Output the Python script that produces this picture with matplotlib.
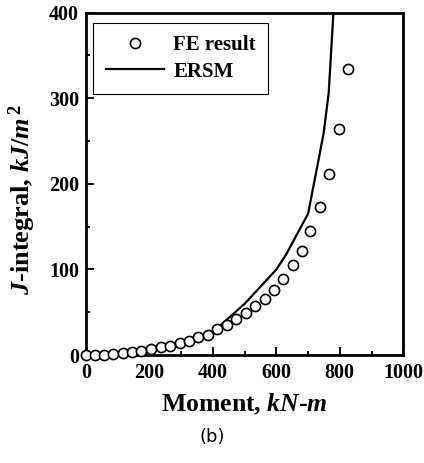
import matplotlib
matplotlib.use("Agg")
import matplotlib.pyplot as plt
from matplotlib.ticker import MultipleLocator

fe_moment = [0, 28, 57, 86, 115, 144, 174, 205, 235, 264, 295, 324, 354, 383, 413,
             444, 473, 504, 533, 563, 594, 622, 651, 680, 707, 737, 767, 796, 825]
fe_j = [0, 0, 0, 1, 2, 4, 5, 7, 9, 11, 14, 17, 21, 24, 30,
        35, 42, 49, 57, 66, 76, 89, 105, 122, 145, 173, 212, 264, 334]

ersm_moment = [0, 100, 200, 300, 400, 500, 600, 630, 700, 733, 749, 765, 780]
ersm_j = [0, 1, 4, 11, 27, 60, 100, 117, 165, 228, 259, 306, 400]

plt.rcParams['font.family'] = ['Liberation Serif', 'DejaVu Serif']
plt.rcParams['mathtext.fontset'] = 'custom'
plt.rcParams['mathtext.rm'] = 'Liberation Serif:bold'
plt.rcParams['mathtext.it'] = 'Liberation Serif:italic:bold'
plt.rcParams['mathtext.bf'] = 'Liberation Serif:bold'

fig = plt.figure(figsize=(4.24, 4.63), dpi=100)
ax = fig.add_axes([0.203, 0.233, 0.748, 0.740])

ax.plot(ersm_moment, ersm_j, color='black', lw=1.6, label='ERSM', zorder=2)
ax.plot(fe_moment, fe_j, linestyle='none', marker='o', markersize=7.3,
        markerfacecolor='white', markeredgecolor='black', markeredgewidth=1.2,
        label='FE result', clip_on=False, zorder=3)

ax.set_xlim(0, 1000)
ax.set_ylim(0, 400)
ax.xaxis.set_major_locator(MultipleLocator(200))
ax.xaxis.set_minor_locator(MultipleLocator(100))
ax.yaxis.set_major_locator(MultipleLocator(100))
ax.yaxis.set_minor_locator(MultipleLocator(50))
ax.tick_params(which='both', direction='in', top=False, right=False, width=1.3)
ax.tick_params(which='major', length=6, labelsize=14.5)
ax.tick_params(axis='x', which='major', pad=6)
ax.tick_params(axis='y', which='major', pad=5)
ax.tick_params(which='minor', length=3)
for lab in ax.get_xticklabels() + ax.get_yticklabels():
    lab.set_fontweight('bold')
for s in ax.spines.values():
    s.set_linewidth(2)

ax.set_xlabel(r'Moment, $\mathit{kN}$-$\mathit{m}$', fontsize=18.5, fontweight='bold', labelpad=6)
ax.set_ylabel(r'$\mathit{J}$-integral, $\mathit{kJ/m}^{\,2}$', fontsize=19, fontweight='bold')
ax.yaxis.set_label_coords(-0.15, 0.455)

handles, labels = ax.get_legend_handles_labels()
leg = ax.legend(handles[::-1], labels[::-1], loc='upper left', bbox_to_anchor=(0.022, 0.97),
                frameon=True, fancybox=False, edgecolor='black', framealpha=1,
                prop={'family': 'Liberation Serif', 'weight': 'bold', 'size': 15},
                handlelength=2.8, borderpad=0.6, labelspacing=0.3, handletextpad=0.45,
                borderaxespad=0)
leg.get_frame().set_linewidth(0.8)

fig.text(0.5, 0.056, '(b)', fontsize=13, ha='center', va='center', family='DejaVu Sans')

fig.savefig('out.png', dpi=100)
